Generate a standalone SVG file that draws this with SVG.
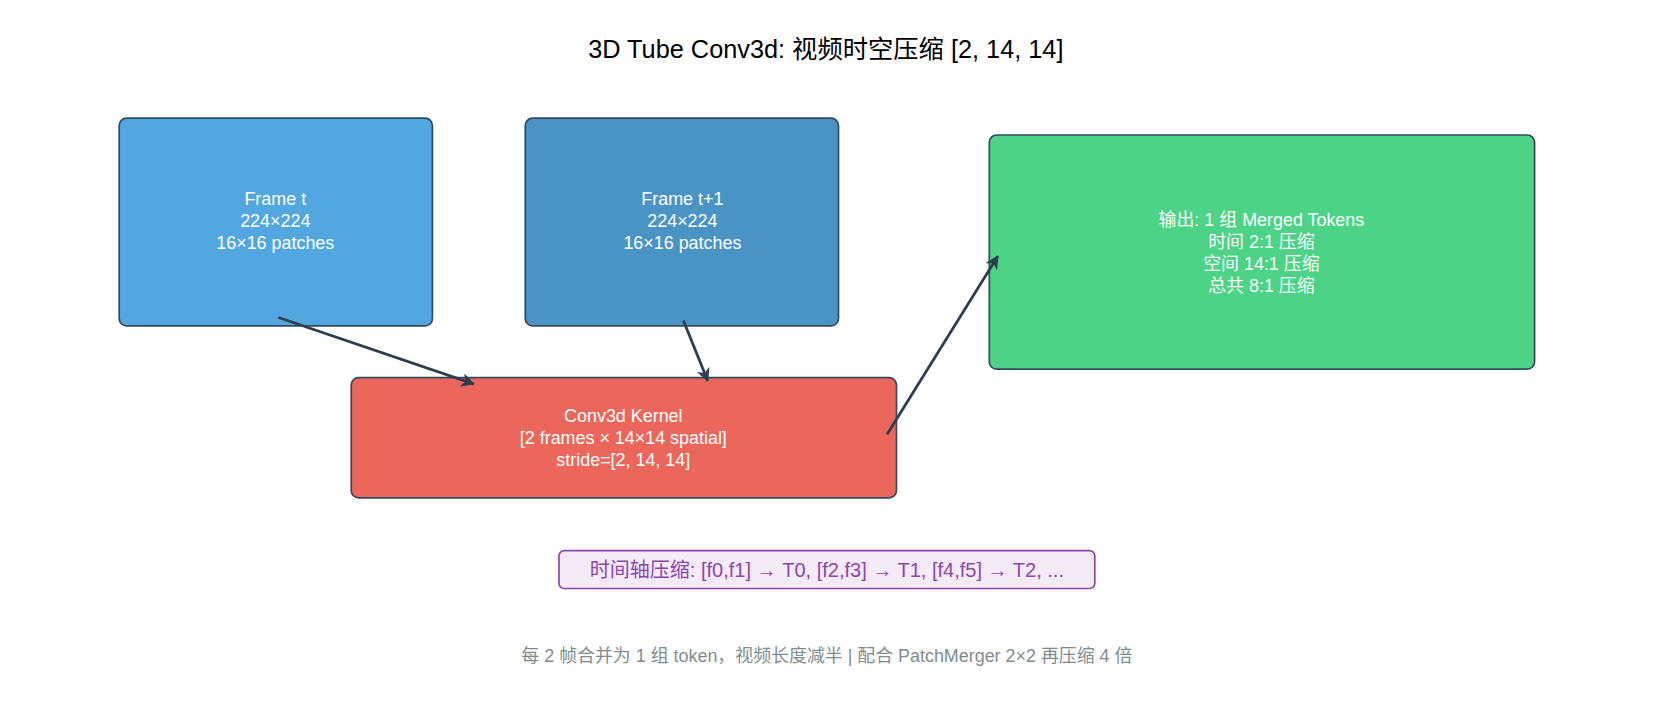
<svg xmlns="http://www.w3.org/2000/svg" width="1657" height="723" viewBox="0 0 1657 723">
<style>
text{font-family:"Liberation Sans","Noto Sans CJK SC",sans-serif;text-anchor:middle}
.box{stroke:#34495e;stroke-width:1.6}
.nt{fill:#fff;font-size:17px}
.c{stroke:#2c3e50;stroke-width:2.6;fill:none;marker-end:url(#ah)}
</style>
<defs><marker id="ah" viewBox="0 0 10 10" refX="9" refY="5" markerWidth="5" markerHeight="5" orient="auto"><path d="M0,0 L10,5 L0,10 L3,5 z" fill="#2c3e50"/></marker></defs>
<rect width="1657" height="723" fill="#fff"/>
<g transform="scale(1.0547)">
<text x="783" y="55" font-size="24" fill="#000">3D Tube Conv3d: 视频时空压缩 [2, 14, 14]</text>
<g id="frame_t"><rect class="box" x="113" y="112" width="297" height="197" rx="7" fill="#52a7e0"/>
<text class="nt" x="261" y="194">Frame t</text><text class="nt" x="261" y="215">224×224</text><text class="nt" x="261" y="236">16×16 patches</text></g>
<g id="frame_t1"><rect class="box" x="498" y="112" width="297" height="197" rx="7" fill="#4a94c5"/>
<text class="nt" x="647" y="194">Frame t+1</text><text class="nt" x="647" y="215">224×224</text><text class="nt" x="647" y="236">16×16 patches</text></g>
<g id="conv"><rect class="box" x="333" y="358" width="517" height="114" rx="7" fill="#ec675b"/>
<text class="nt" x="591" y="400">Conv3d Kernel</text><text class="nt" x="591" y="421">[2 frames × 14×14 spatial]</text><text class="nt" x="591" y="442">stride=[2, 14, 14]</text></g>
<g id="output"><rect class="box" x="938" y="128" width="517" height="222" rx="7" fill="#4cd386"/>
<text class="nt" x="1196" y="214">输出: 1 组 Merged Tokens</text><text class="nt" x="1196" y="235">时间 2:1 压缩</text><text class="nt" x="1196" y="256">空间 14:1 压缩</text><text class="nt" x="1196" y="277">总共 8:1 压缩</text></g>
<g id="connectors">
<path class="c" d="M264,301 L449,364"/>
<path class="c" d="M648,304 L671,361"/>
<path class="c" d="M841,412 L946,243"/>
</g>
<g id="legend"><rect x="530" y="522" width="508" height="36" rx="5" fill="#f4ebf7" stroke="#8e44ad" stroke-width="1.6"/>
<text x="784" y="547" font-size="19" fill="#8e44ad">时间轴压缩: [f0,f1] → T0, [f2,f3] → T1, [f4,f5] → T2, ...</text></g>
<text x="784" y="628" font-size="17" fill="#7f8c8d">每 2 帧合并为 1 组 token，视频长度减半 | 配合 PatchMerger 2×2 再压缩 4 倍</text>
</g>
</svg>
